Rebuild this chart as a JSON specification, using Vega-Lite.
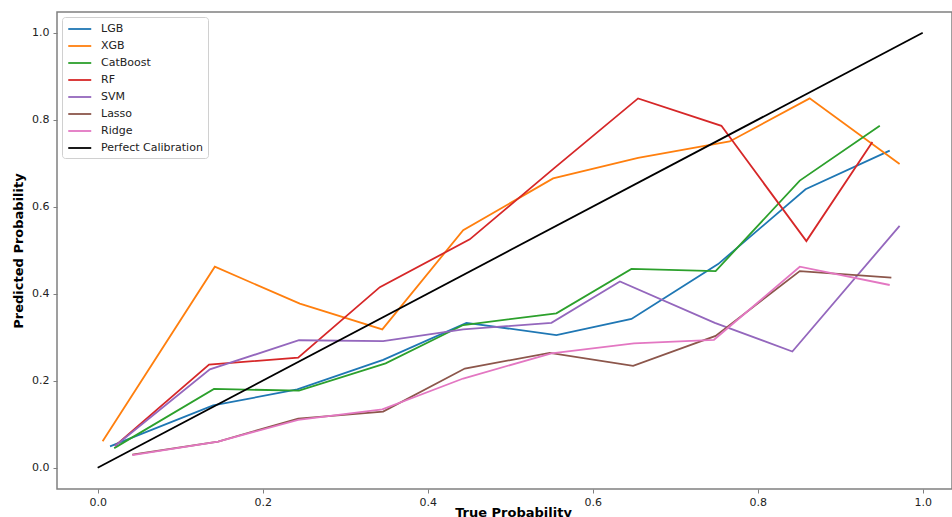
{
  "$schema": "https://vega.github.io/schema/vega-lite/v6.json",
  "width": 895,
  "height": 477,
  "autosize": {"type": "none"},
  "padding": {"left": 57, "top": 12, "right": 0, "bottom": 28},
  "background": "white",
  "config": {
    "view": {"stroke": "#808080", "strokeWidth": 1.5},
    "font": "DejaVu Sans",
    "axis": {
      "grid": false,
      "domain": false,
      "tickColor": "#808080",
      "tickWidth": 1,
      "tickSize": 4,
      "labelFont": "DejaVu Sans",
      "labelFontSize": 11,
      "labelColor": "#222222",
      "titleFont": "DejaVu Sans",
      "titleFontSize": 13,
      "titleFontWeight": "bold",
      "titleColor": "#000000"
    }
  },
  "datasets": {
    "models": [
      {"model": "LGB", "x": 0.015, "y": 0.049},
      {"model": "LGB", "x": 0.140, "y": 0.143},
      {"model": "LGB", "x": 0.242, "y": 0.180},
      {"model": "LGB", "x": 0.346, "y": 0.248},
      {"model": "LGB", "x": 0.447, "y": 0.333},
      {"model": "LGB", "x": 0.556, "y": 0.305},
      {"model": "LGB", "x": 0.647, "y": 0.342},
      {"model": "LGB", "x": 0.752, "y": 0.468},
      {"model": "LGB", "x": 0.858, "y": 0.640},
      {"model": "LGB", "x": 0.960, "y": 0.729},
      {"model": "XGB", "x": 0.006, "y": 0.061},
      {"model": "XGB", "x": 0.142, "y": 0.462},
      {"model": "XGB", "x": 0.245, "y": 0.377},
      {"model": "XGB", "x": 0.345, "y": 0.318},
      {"model": "XGB", "x": 0.443, "y": 0.546},
      {"model": "XGB", "x": 0.552, "y": 0.665},
      {"model": "XGB", "x": 0.655, "y": 0.712},
      {"model": "XGB", "x": 0.766, "y": 0.750},
      {"model": "XGB", "x": 0.863, "y": 0.849},
      {"model": "XGB", "x": 0.972, "y": 0.698},
      {"model": "CatBoost", "x": 0.020, "y": 0.045},
      {"model": "CatBoost", "x": 0.141, "y": 0.181},
      {"model": "CatBoost", "x": 0.244, "y": 0.177},
      {"model": "CatBoost", "x": 0.349, "y": 0.240},
      {"model": "CatBoost", "x": 0.443, "y": 0.328},
      {"model": "CatBoost", "x": 0.556, "y": 0.355},
      {"model": "CatBoost", "x": 0.647, "y": 0.457},
      {"model": "CatBoost", "x": 0.749, "y": 0.452},
      {"model": "CatBoost", "x": 0.851, "y": 0.660},
      {"model": "CatBoost", "x": 0.948, "y": 0.786},
      {"model": "RF", "x": 0.021, "y": 0.050},
      {"model": "RF", "x": 0.135, "y": 0.237},
      {"model": "RF", "x": 0.243, "y": 0.253},
      {"model": "RF", "x": 0.342, "y": 0.415},
      {"model": "RF", "x": 0.451, "y": 0.525},
      {"model": "RF", "x": 0.553, "y": 0.688},
      {"model": "RF", "x": 0.655, "y": 0.849},
      {"model": "RF", "x": 0.756, "y": 0.786},
      {"model": "RF", "x": 0.859, "y": 0.521},
      {"model": "RF", "x": 0.939, "y": 0.749},
      {"model": "SVM", "x": 0.021, "y": 0.050},
      {"model": "SVM", "x": 0.136, "y": 0.226},
      {"model": "SVM", "x": 0.244, "y": 0.293},
      {"model": "SVM", "x": 0.346, "y": 0.291},
      {"model": "SVM", "x": 0.443, "y": 0.318},
      {"model": "SVM", "x": 0.550, "y": 0.333},
      {"model": "SVM", "x": 0.633, "y": 0.428},
      {"model": "SVM", "x": 0.748, "y": 0.333},
      {"model": "SVM", "x": 0.842, "y": 0.267},
      {"model": "SVM", "x": 0.972, "y": 0.556},
      {"model": "Lasso", "x": 0.042, "y": 0.030},
      {"model": "Lasso", "x": 0.146, "y": 0.060},
      {"model": "Lasso", "x": 0.243, "y": 0.113},
      {"model": "Lasso", "x": 0.346, "y": 0.129},
      {"model": "Lasso", "x": 0.445, "y": 0.228},
      {"model": "Lasso", "x": 0.548, "y": 0.264},
      {"model": "Lasso", "x": 0.649, "y": 0.234},
      {"model": "Lasso", "x": 0.749, "y": 0.303},
      {"model": "Lasso", "x": 0.851, "y": 0.452},
      {"model": "Lasso", "x": 0.962, "y": 0.437},
      {"model": "Ridge", "x": 0.042, "y": 0.029},
      {"model": "Ridge", "x": 0.146, "y": 0.060},
      {"model": "Ridge", "x": 0.243, "y": 0.110},
      {"model": "Ridge", "x": 0.345, "y": 0.134},
      {"model": "Ridge", "x": 0.443, "y": 0.205},
      {"model": "Ridge", "x": 0.550, "y": 0.263},
      {"model": "Ridge", "x": 0.650, "y": 0.286},
      {"model": "Ridge", "x": 0.747, "y": 0.294},
      {"model": "Ridge", "x": 0.851, "y": 0.462},
      {"model": "Ridge", "x": 0.960, "y": 0.420}
    ],
    "perfect": [
      {"model": "Perfect Calibration", "x": 0, "y": 0},
      {"model": "Perfect Calibration", "x": 1, "y": 1}
    ]
  },
  "encoding": {
    "x": {
      "field": "x",
      "type": "quantitative",
      "title": "True Probability",
      "scale": {"domain": [-0.0493, 1.0355], "nice": false, "zero": false},
      "axis": {"values": [0, 0.2, 0.4, 0.6, 0.8, 1.0], "format": ".1f", "labelPadding": 3, "titleBaseline": "alphabetic", "titleY": 27, "titleX": 456}
    },
    "y": {
      "field": "y",
      "type": "quantitative",
      "title": "Predicted Probability",
      "scale": {"domain": [-0.049, 1.0476], "nice": false, "zero": false},
      "axis": {"values": [0, 0.2, 0.4, 0.6, 0.8, 1.0], "format": ".1f", "labelPadding": 4, "titleBaseline": "middle", "titleX": -39, "titleAngle": -90}
    },
    "color": {
      "field": "model",
      "type": "nominal",
      "scale": {
        "domain": ["LGB", "XGB", "CatBoost", "RF", "SVM", "Lasso", "Ridge", "Perfect Calibration"],
        "range": ["#1f77b4", "#ff7f0e", "#2ca02c", "#d62728", "#9467bd", "#8c564b", "#e377c2", "#000000"]
      },
      "legend": {
        "title": null,
        "orient": "none",
        "legendX": 5,
        "legendY": 5,
        "symbolType": "M-1,0H3",
        "symbolSize": 132,
        "symbolStrokeWidth": 1.8,
        "labelFont": "DejaVu Sans",
        "labelFontSize": 11,
        "labelColor": "#222222",
        "labelOffset": 20,
        "rowPadding": 5,
        "padding": 5,
        "fillColor": "white",
        "strokeColor": "#d0d0d0",
        "cornerRadius": 3
      }
    }
  },
  "layer": [
    {"data": {"name": "models"}, "mark": {"type": "line", "strokeWidth": 1.8}},
    {"data": {"name": "perfect"}, "mark": {"type": "line", "strokeWidth": 1.8}}
  ]
}
